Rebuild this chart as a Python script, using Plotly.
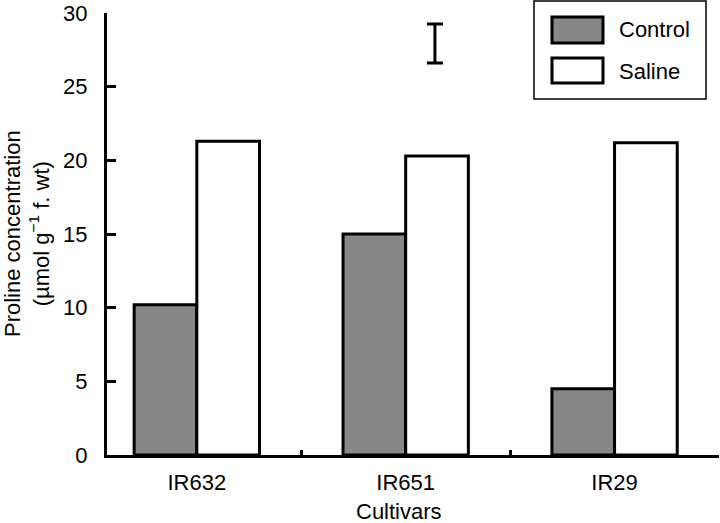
import plotly.graph_objects as go

cultivars = ["IR632", "IR651", "IR29"]
control = [10.2, 15.0, 4.5]
saline = [21.3, 20.3, 21.2]
series_names = ["Control", "Saline"]
lsd_x = [1.14]
lsd_center = [27.93]
lsd_half = [1.33]
y_ticks = [0, 5, 10, 15, 20, 25, 30]

FONT = "Liberation Sans, Arial, sans-serif"
FS = 22
GRAY = "#878787"

W, H = 720, 523
L, R, T, B = 107, 1, 13, 68
PW, PH = W - L - R, H - T - B


def px(x):
    return (x - L) / PW


def py(y):
    return (H - B - y) / PH


fig = go.Figure()
fig.add_trace(go.Bar(x=cultivars, y=control, name=series_names[0],
                     marker=dict(color=GRAY, line=dict(color="black", width=3)),
                     showlegend=False))
fig.add_trace(go.Bar(x=cultivars, y=saline, name=series_names[1],
                     marker=dict(color="white", line=dict(color="black", width=3)),
                     showlegend=False))
fig.add_trace(go.Scatter(x=lsd_x, y=lsd_center, xaxis="x2", mode="markers",
                         marker=dict(size=1, color="rgba(0,0,0,0)"),
                         error_y=dict(type="data", array=lsd_half, visible=True,
                                      color="black", thickness=3, width=8),
                         showlegend=False, hoverinfo="skip"))

xr = [-0.43, 2.5]
fig.update_layout(
    width=W, height=H,
    margin=dict(l=L, r=R, t=T, b=B, autoexpand=False),
    paper_bgcolor="white", plot_bgcolor="white",
    font=dict(family=FONT, size=FS, color="black"),
    barmode="group", bargap=0.4, bargroupgap=0,
    xaxis=dict(type="category", range=xr, showline=True, linecolor="black", linewidth=3,
               ticks="inside", tickson="boundaries", ticklen=5, tickwidth=3, tickcolor="black",
               showgrid=False, zeroline=False, ticklabelstandoff=6,
               tickfont=dict(family=FONT, size=FS)),
    xaxis2=dict(overlaying="x", range=xr, visible=False, type="linear"),
    yaxis=dict(range=[0, 30], tickvals=y_ticks, showline=True, linecolor="black", linewidth=3,
               ticks="inside", ticklen=9, tickwidth=3, tickcolor="black",
               showgrid=False, zeroline=False, ticklabelstandoff=12,
               tickfont=dict(family=FONT, size=FS)),
)

annotations = [
    dict(text="Cultivars", x=px(399), y=py(511), xref="paper", yref="paper",
         xanchor="center", yanchor="middle", showarrow=False,
         font=dict(family=FONT, size=FS)),
    dict(text="Proline concentration<br>(\u00b5mol g<sup>\u22121</sup> f. wt)",
         x=px(27), y=0.5, xref="paper", yref="paper", textangle=-90,
         xanchor="center", yanchor="middle", showarrow=False,
         font=dict(family=FONT, size=FS)),
]
shapes = [
    dict(type="rect", xref="paper", yref="paper", x0=px(534), x1=px(706), y0=py(99), y1=py(1),
         line=dict(color="black", width=1.5), fillcolor="white", layer="above"),
    dict(type="rect", xref="paper", yref="paper", x0=px(552), x1=px(603), y0=py(43), y1=py(17),
         line=dict(color="black", width=3), fillcolor=GRAY, layer="above"),
    dict(type="rect", xref="paper", yref="paper", x0=px(552), x1=px(603), y0=py(83), y1=py(58),
         line=dict(color="black", width=3), fillcolor="white", layer="above"),
]
for name, yc in zip(series_names, [30, 71]):
    annotations.append(dict(text=name, x=px(617), y=py(yc), xref="paper", yref="paper",
                            xanchor="left", yanchor="middle", showarrow=False,
                            font=dict(family=FONT, size=FS)))
fig.update_layout(annotations=annotations, shapes=shapes)

fig.write_html("out.html", config={"displayModeBar": False},
               post_script="document.body.style.margin='0px';")
